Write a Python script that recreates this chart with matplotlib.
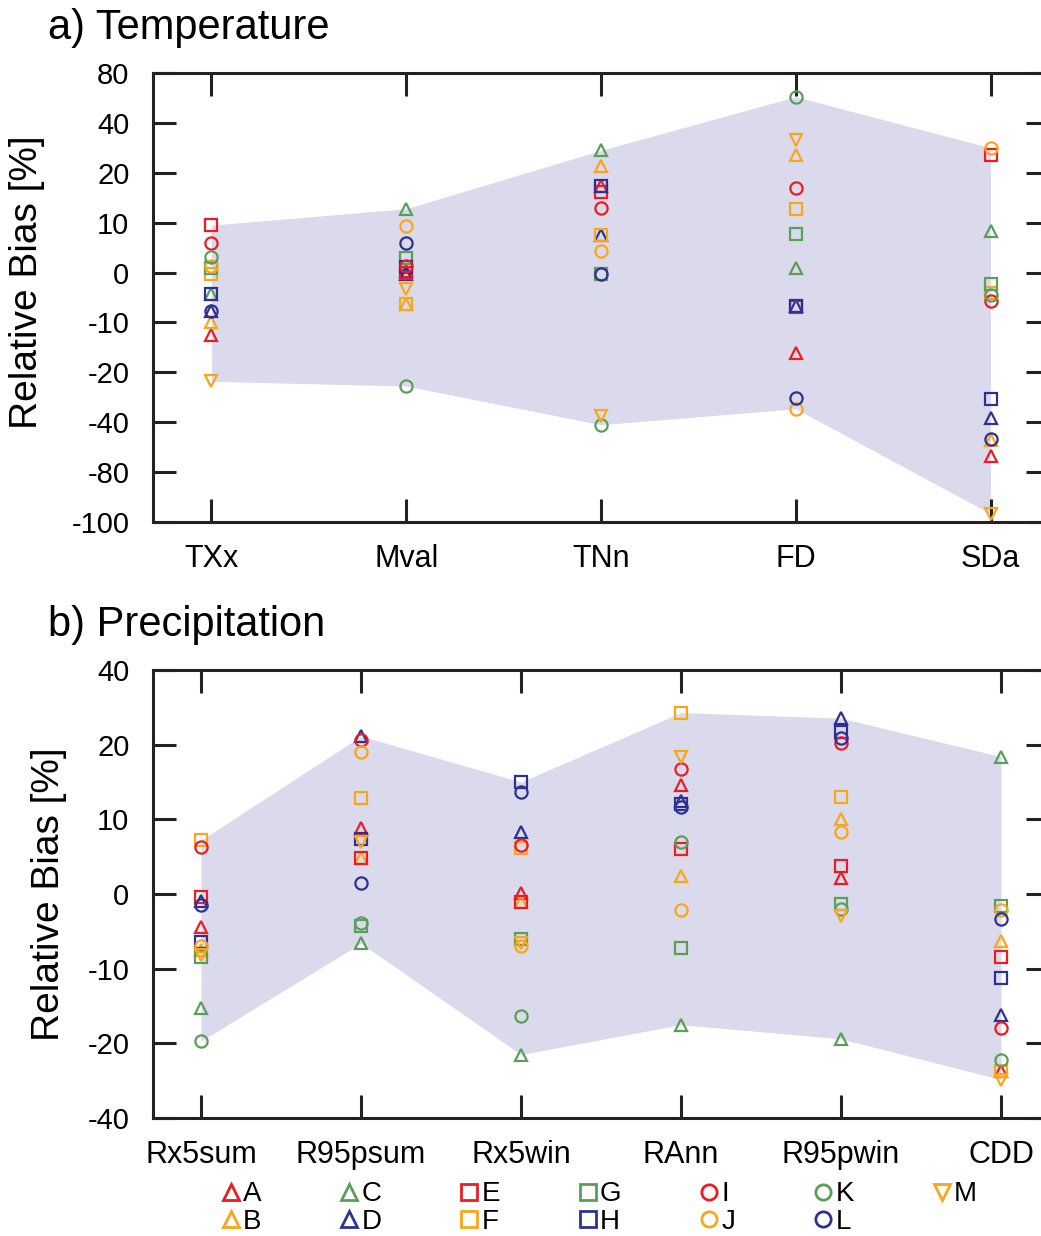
import numpy as np
import matplotlib
matplotlib.use("Agg")
import matplotlib.pyplot as plt
from matplotlib.lines import Line2D

plt.rcParams['font.family'] = ['Liberation Sans', 'DejaVu Sans']

fs = 22
lw2 = 2.2
ms = 8.8
mew = 1.6

models = ["A", "B", "C", "D", "E", "F", "G", "H", "I", "J", "K", "L", "M"]
red, orange, green, blue = "#ED1C24", "#FAA61A", "#5A9E5A", "#2E3192"
colors = [red, orange, green, blue, red, orange, green, blue, red, orange, green, blue, orange]
markers = ["^", "^", "^", "^", "s", "s", "s", "s", "o", "o", "o", "o", "v"]

# temperature indices, one value per model (A..M), relative bias in %
temp_names = ["TXx", "Mval", "TNn", "FD", "SDa"]
temp_TXx = [-12.6, -9.9, -4.2, -7.8, 9.5, -0.2, 1.0, -4.2, 5.9, 1.4, 3.2, -7.8, -23.6]
temp_Mval = [0.3, -6.3, 12.8, -0.2, 0.0, -6.3, 3.0, 1.2, 1.4, 9.4, -25.5, 6.0, -3.2]
temp_TNn = [17.4, 22.7, 29.0, 7.5, 16.2, 7.5, -0.2, 17.4, 13.0, 4.3, -42.0, -0.2, -37.7]
temp_FD = [-16.2, 27.3, 1.0, -6.7, -7.0, 12.8, 7.7, -6.7, 17.0, -34.6, 61.0, -30.2, 33.3]
temp_SDa = [-67.0, -54.5, 8.3, -38.3, 27.1, -4.0, -2.2, -30.5, -5.7, 30.0, -4.4, -53.2, -96.7]
temp_ticks = [-100, -80, -40, -20, -10, 0, 10, 20, 40, 80]

# precipitation indices
prec_names = ["Rx5sum", "R95psum", "Rx5win", "RAnn", "R95pwin", "CDD"]
prec_Rx5sum = [-4.4, -7.5, -15.3, -1.0, -0.4, 7.2, -8.4, -6.4, 6.3, -7.0, -19.7, -1.5, -8.2]
prec_R95psum = [8.9, 4.8, -6.6, 22.3, 4.8, 12.9, -4.3, 7.3, 21.2, 19.0, -3.9, 1.5, 6.9]
prec_Rx5win = [0.1, -1.1, -23.0, 8.3, -1.1, 6.2, -6.0, 15.0, 6.5, -7.0, -16.4, 13.6, -6.6]
prec_RAnn = [14.6, 2.4, -17.5, 12.5, 6.0, 28.6, -7.2, 12.1, 16.8, -2.2, 6.9, 11.6, 18.3]
prec_R95pwin = [2.2, 10.0, -19.4, 27.1, 3.7, 13.0, -1.4, 23.5, 20.4, 8.3, -2.0, 21.8, -3.0]
prec_CDD = [-27.5, -6.3, 18.4, -16.2, -8.5, -27.5, -1.6, -11.2, -18.0, -2.1, -24.4, -3.4, -29.7]
prec_ticks = [-40, -20, -10, 0, 10, 20, 40]


def stretch(ticks):
    # equal spacing between the labelled tick values
    pos = np.arange(len(ticks), dtype=float)
    return (lambda v: np.interp(v, ticks, pos)), (lambda p: np.interp(p, pos, ticks))


def panel(ax, names, data, ticks):
    data = np.array(data)  # categories x models
    x = np.arange(1, len(names) + 1)
    ax.set_yscale('function', functions=stretch(ticks))
    ax.fill_between(x, data.min(axis=1), data.max(axis=1), color="#DADAEC", lw=0, zorder=1)
    for i in range(len(models)):
        ax.plot(x, data[:, i], ls="none", marker=markers[i], ms=ms, mfc="none",
                mec=colors[i], mew=mew, label=models[i], zorder=3, clip_on=False)
    ax.set_xlim(0.7, len(names) + 0.3)
    ax.set_ylim(ticks[0], ticks[-1])
    ax.set_xticks(x)
    ax.set_xticklabels(names, fontsize=fs)
    ax.set_yticks(ticks)
    ax.set_yticklabels([str(t) for t in ticks], fontsize=fs - 1)
    ax.tick_params(direction="in", top=True, right=True, length=16.5, width=lw2,
                   color="#222222")
    ax.tick_params(axis="x", pad=15.5)
    ax.tick_params(axis="y", pad=17)
    for s in ax.spines.values():
        s.set_linewidth(lw2)
        s.set_color("#222222")
    ax.set_ylabel("Relative Bias [%]", fontsize=28)


fig = plt.figure(figsize=(10.41, 12.36), dpi=100)

ax1 = fig.add_axes([153 / 1041, 1 - 522 / 1236, 896 / 1041, 449 / 1236])
panel(ax1, temp_names, [temp_TXx, temp_Mval, temp_TNn, temp_FD, temp_SDa], temp_ticks)
ax1.yaxis.set_label_coords(-0.12, 0.535)

ax2 = fig.add_axes([153 / 1041, 1 - 1118 / 1236, 896 / 1041, 448 / 1236])
panel(ax2, prec_names, [prec_Rx5sum, prec_R95psum, prec_Rx5win, prec_RAnn, prec_R95pwin, prec_CDD],
      prec_ticks)
ax2.yaxis.set_label_coords(-0.0965, 0.5)

fig.text(48 / 1041, 1 - 39 / 1236, "a) Temperature", fontsize=30, va="baseline")
fig.text(48 / 1041, 1 - 636 / 1236, "b) Precipitation", fontsize=30, va="baseline")

handles = [Line2D([], [], ls="none", marker=markers[i], ms=11, mfc="none", mec=colors[i], mew=2.0)
           for i in range(len(models))]
fig.legend(handles, models, ncol=7, loc="center", bbox_to_anchor=(0.576, 1 - 1208 / 1236),
           frameon=False, fontsize=20, handlelength=0.6, handletextpad=0.15,
           columnspacing=2.85, labelspacing=0.05, borderpad=0)

fig.savefig("out.png", dpi=100)
